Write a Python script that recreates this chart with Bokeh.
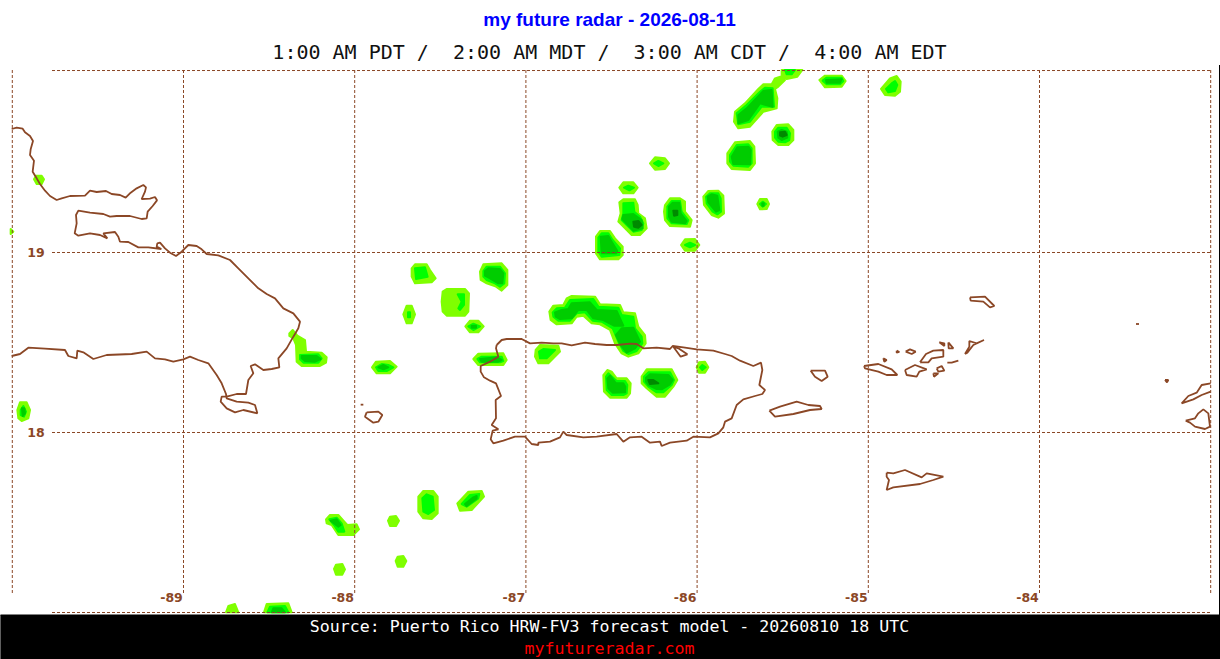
from bokeh.embed import file_html
from bokeh.resources import INLINE
from bokeh.models import Range1d, Label
from bokeh.plotting import figure
from bokeh.core.properties import value

# Map georeference
X0, Y0, PX_DEG_X, PX_DEG_Y = 183.5, 252.5, 171.2, 180.0
def lon(x): return -89 + (x - X0) / PX_DEG_X
def lat(y): return 19 - (y - Y0) / PX_DEG_Y

LON_LINES = [-90, -89, -88, -87, -86, -85, -84, -83]
LAT_LINES = [17, 18, 19, 20.011]
LON_LABELS = [-89, -88, -87, -86, -85, -84]
LAT_LABELS = [18, 19]
TITLE = "my future radar - 2026-08-11"
SUBTITLE = "1:00 AM PDT /\u00a0 2:00 AM MDT /\u00a0 3:00 AM CDT /\u00a0 4:00 AM EDT"
SOURCE = "Source: Puerto Rico HRW-FV3 forecast model - 20260810 18 UTC"
SITE = "myfutureradar.com"

# Digitised tracings: (origin of the tracing sheet), then points at 3x
def tr(o, pts): return [(o[0] + a / 3, o[1] + b / 3) for a, b in pts]
Z1, Z2, Z3, Z4, Z5, Z6, Z7, Z8 = (0,60), (0,270), (470,320), (760,280), (1120,310), (590,65), (390,255), (210,480)

HISPANIOLA = tr(Z1, [(35,207),(50,203),(68,206),(75,217),(90,228),(99,243),(92,268),(90,285),(102,302),(98,335),(110,355),(120,372),(135,392),(150,408),(170,420),(185,415),(210,408),(255,407),(270,392),(290,396),(318,393),(335,402),(360,405),(377,413),(392,398),(410,385),(430,375),(438,382),(435,395),(425,417),(450,416),(465,411),(471,421),(458,438),(443,455),(440,475),(425,477),(390,468),(350,468),(330,470),(310,462),(270,458),(235,452),(228,465),(230,490),(224,520),(235,527),(270,520),(300,525),(322,535),(310,520),(345,516),(355,530),(360,545),(385,546),(415,562),(445,562),(484,567),(470,560),(472,550),(480,548),(495,565),(510,578),(528,588),(545,575),(565,555),(590,558),(605,568),(620,582),(655,586),(690,600),(715,625),(748,658)]) + \
    tr(Z2, [(775,55),(800,72),(825,85),(850,115),(880,130),(900,155),(895,175),(880,200),(860,235),(835,265),(838,292),(815,297),(790,300),(765,283),(752,288),(760,310),(745,330),(738,372),(710,372),(680,380),(665,380),(662,395),(680,415),(705,427),(730,420),(772,430),(765,405),(745,398),(710,395),(680,385),(678,372),(665,340),(650,315),(625,280),(595,270),(570,260),(550,268),(520,275),(495,268),(465,265),(440,245),(395,252),(320,255),(280,267),(250,247),(232,242),(230,265),(205,258),(195,240),(135,236),(85,233),(60,252),(35,258)])
PUERTO_RICO = tr(Z3, [(80,75),(95,60),(110,57),(155,57),(180,70),(215,68),(250,70),(275,70),(305,76),(345,68),(375,72),(410,75),(440,75),(480,71),(500,72),(520,85),(560,83),(600,87),(608,78),(640,82),(680,88),(730,92),(765,102),(785,108),(810,122),(850,138),(873,128),(877,150),(868,195),(885,210),(877,222),(855,228),(820,238),(800,255),(785,295),(765,305),(760,322),(745,340),(720,352),(670,350),(650,362),(600,368),(575,378),(570,365),(540,368),(515,350),(480,352),(460,365),(440,342),(380,350),(340,352),(290,345),(280,335),(270,352),(240,365),(205,368),(205,375),(185,372),(165,350),(135,350),(100,362),(70,370),(62,358),(68,332),(85,328),(65,315),(78,295),(77,240),(93,228),(78,190),(60,182),(42,172),(32,155),(32,138),(60,125),(85,110),(78,85),(80,75)])
ISLANDS = [
    tr(Z2, [(1082,404),(1090,404)]),
    tr(Z2, [(1100,427),(1095,440),(1120,458),(1135,455),(1147,435),(1135,425),(1100,427)]),
    tr(Z3, [(610,80),(625,85),(652,103),(632,110),(610,80)]),
    tr(Z4, [(28,392),(60,380),(110,365),(145,375),(180,378),(185,387),(150,390),(100,402),(45,410),(28,392)]),
    tr(Z4, [(380,578),(400,580),(435,570),(485,592),(500,580),(550,590),(520,600),(480,612),(400,622),(380,630),(387,600),(380,590),(380,578)]),
    tr(Z4, [(152,272),(195,272),(203,290),(185,303),(165,290),(152,272)]),
    tr(Z4, [(312,258),(355,252),(395,268),(412,285),(380,285),(355,275),(315,265),(312,258)]),
    tr(Z4, [(435,270),(465,255),(500,268),(478,275),(470,290),(440,285),(435,270)]),
    tr(Z4, [(480,247),(498,222),(520,212),(550,210),(550,230),(515,235),(505,247),(480,247)]),
    tr(Z4, [(530,265),(545,258),(553,272),(535,275),(530,265)]),
    tr(Z4, [(520,280),(535,280),(522,290),(520,280)]),
    tr(Z4, [(538,187),(553,190),(553,198),(538,187)]),
    tr(Z4, [(565,187),(580,205),(566,205),(565,187)]),
    tr(Z4, [(410,212),(418,216),(410,218),(410,212)]),
    tr(Z4, [(370,235),(380,240),(373,245),(370,235)]),
    tr(Z4, [(437,215),(450,208),(467,215),(455,222),(437,215)]),
    tr(Z4, [(562,248),(575,248),(595,242)]),
    tr(Z4, [(615,222),(628,200),(628,183),(650,190),(672,180),(640,195),(622,218),(615,222)]),
    tr(Z4, [(630,52),(675,50),(703,78),(690,82),(670,65),(632,62),(630,52)]),
    tr(Z5, [(48,42),(57,42)]),
    tr(Z5, [(135,210),(145,210),(141,217),(135,210)]),
    tr(Z5, [(272,220),(245,225),(230,248),(205,258),(185,280),(220,268),(245,255),(272,245)]),
    tr(Z5, [(197,332),(225,325),(235,310),(250,298),(265,310),(270,350),(255,357),(225,350),(210,338),(197,332)]),
]

# Radar reflectivity bands, weakest to strongest
BAND_1 = [
    tr(Z6, [(435,140),(465,115),(505,72),(520,58),(545,58),(555,40),(580,32),(585,45),(565,65),(555,72),(562,100),(560,130),(520,140),(480,185),(445,190),(432,170)]),
    tr(Z6, [(575,15),(637,15),(622,35),(590,42),(575,30)]),
    tr(Z6, [(547,200),(560,180),(595,178),(610,195),(610,225),(595,240),(565,240),(548,225)]),
    tr(Z6, [(412,265),(435,232),(480,228),(493,245),(495,295),(480,315),(425,312),(412,295)]),
    tr(Z6, [(688,45),(705,32),(755,32),(767,48),(755,65),(705,67)]),
    tr(Z6, [(873,72),(900,40),(920,33),(932,50),(930,80),(915,92),(885,90)]),
    tr(Z6, [(180,295),(195,277),(225,280),(237,295),(225,312),(195,314)]),
    tr(Z6, [(88,368),(100,352),(130,352),(143,368),(130,385),(100,385)]),
    tr(Z6, [(88,412),(100,403),(135,403),(143,420),(145,445),(165,460),(170,490),(150,510),(125,510),(105,490),(85,470),(92,445)]),
    tr(Z6, [(225,420),(240,400),(270,400),(285,410),(285,440),(305,465),(300,485),(240,483),(225,465),(222,440)]),
    tr(Z6, [(340,395),(355,378),(385,377),(400,392),(402,445),(385,458),(365,450),(342,420)]),
    tr(Z6, [(502,417),(510,402),(530,402),(537,417),(530,432),(510,433)]),
    tr(Z6, [(273,540),(285,523),(315,522),(328,540),(315,557),(285,557)]),
    tr(Z6, [(18,515),(30,498),(60,498),(75,520),(98,545),(98,570),(85,583),(30,583),(18,565)]),
    tr(Z7, [(65,40),(75,28),(110,28),(120,45),(137,70),(125,82),(75,85),(65,65)]),
    tr(Z7, [(270,50),(280,28),(335,25),(352,45),(352,90),(335,107),(318,95),(290,85),(272,75)]),
    tr(Z7, [(158,110),(170,102),(225,102),(237,115),(235,170),(225,182),(170,182),(158,170),(155,140)]),
    tr(Z7, [(40,178),(50,152),(65,152),(75,178),(65,205),(50,205)]),
    tr(Z7, [(226,214),(240,197),(265,197),(281,214),(265,232),(240,232)]),
    tr(Z7, [(478,170),(490,152),(520,150),(530,130),(545,123),(615,125),(630,148),(690,150),(700,172),(735,175),(745,215),(765,240),(767,265),(745,295),(715,305),(695,295),(675,265),(660,225),(630,208),(605,205),(580,182),(560,185),(545,205),(500,208),(482,195)]),
    tr(Z7, [(437,285),(450,270),(505,272),(510,290),(475,325),(445,325),(435,305)]),
    tr(Z7, [(250,312),(265,296),(340,295),(350,315),(340,330),(265,330)]),
    tr(Z2, [(1116,292),(1128,275),(1170,273),(1190,290),(1170,310),(1130,310)]),
    tr(Z7, [(755,365),(770,343),(845,343),(862,375),(850,395),(825,425),(800,425),(770,400),(755,385)]),
    tr(Z7, [(640,360),(652,345),(665,350),(680,370),(710,370),(722,385),(720,415),(710,428),(660,428),(642,410)]),
    tr(Z7, [(920,337),(927,322),(945,320),(955,337),(945,353),(927,353)]),
    tr(Z2, [(868,190),(878,180),(892,197),(915,210),(918,245),(965,248),(980,262),(978,278),(960,288),(905,288),(890,275),(888,225),(880,205),(868,198)]),
    tr(Z2, [(52,420),(60,397),(80,397),(90,420),(85,445),(65,453),(55,445)]),
    tr(Z1, [(102,358),(108,347),(125,347),(132,358),(125,372),(110,372)]),
    tr(Z1, [(32,507),(40,515),(32,522)]),
    tr(Z8, [(625,50),(640,33),(670,33),(683,50),(683,100),(665,117),(640,115),(625,95)]),
    tr(Z8, [(742,70),(775,35),(815,33),(822,50),(785,90),(750,92)]),
    tr(Z8, [(348,118),(360,105),(385,105),(403,125),(412,135),(440,133),(447,148),(430,165),(385,165),(365,135),(350,130)]),
    tr(Z8, [(534,122),(540,110),(558,108),(567,122),(558,138),(540,138)]),
    tr(Z8, [(557,243),(563,230),(580,228),(589,243),(580,260),(563,260)]),
    tr(Z8, [(372,267),(378,254),(397,252),(405,268),(397,284),(378,284)]),
    tr(Z8, [(48,397),(55,378),(75,372),(85,397)]),
    tr(Z8, [(162,397),(170,372),(235,370),(245,397)]),
]
BAND_2 = [
    tr(Z6, [(440,145),(470,120),(510,80),(525,68),(548,70),(552,125),(515,125),(480,170),(445,178)]),
    tr(Z6, [(585,15),(615,15),(605,28),(590,28)]),
    tr(Z6, [(555,200),(565,188),(590,188),(600,205),(598,225),(585,232),(565,230),(555,218)]),
    tr(Z6, [(420,270),(440,240),(475,238),(485,250),(485,295),(475,305),(430,302),(420,290)]),
    tr(Z6, [(698,47),(710,38),(755,38),(760,48),(750,58),(710,58)]),
    tr(Z6, [(888,72),(905,55),(915,48),(922,60),(915,78),(895,82)]),
    tr(Z6, [(192,295),(205,288),(220,295),(205,303)]),
    tr(Z6, [(102,368),(115,362),(132,368),(118,376)]),
    tr(Z6, [(100,415),(130,413),(133,440),(150,455),(160,475),(155,495),(130,500),(110,480),(95,465),(100,445)]),
    tr(Z6, [(232,425),(245,408),(270,408),(275,440),(295,465),(290,477),(245,475),(232,460)]),
    tr(Z6, [(348,395),(360,385),(385,385),(392,400),(393,440),(382,448),(368,440),(350,415)]),
    tr(Z6, [(510,417),(518,410),(528,417),(518,425)]),
    tr(Z6, [(285,540),(300,533),(315,540),(300,547)]),
    tr(Z6, [(25,518),(35,505),(55,505),(68,525),(90,550),(88,570),(35,575),(25,560)]),
    tr(Z7, [(75,40),(105,37),(113,65),(78,72)]),
    tr(Z7, [(280,48),(290,35),(330,35),(345,55),(343,85),(330,95),(315,85),(290,75),(280,65)]),
    tr(Z7, [(203,118),(222,118),(222,150),(210,165),(205,160),(215,140)]),
    tr(Z7, [(54,172),(60,172),(60,187),(54,187)]),
    tr(Z7, [(235,214),(250,206),(270,214),(250,225)]),
    tr(Z7, [(488,172),(500,160),(525,158),(540,135),(610,132),(625,155),(685,158),(695,180),(730,185),(735,220),(755,245),(757,265),(740,288),(715,297),(700,288),(685,260),(668,220),(635,200),(608,197),(585,172),(560,175),(540,197),(505,197),(490,185)]),
    tr(Z7, [(447,290),(460,282),(495,285),(470,310),(450,310)]),
    tr(Z7, [(262,312),(275,305),(335,305),(340,318),(330,322),(270,322)]),
    tr(Z2, [(1128,292),(1145,282),(1165,285),(1180,292),(1160,303),(1135,303)]),
    tr(Z7, [(762,365),(775,352),(840,352),(852,375),(845,390),(820,412),(800,412),(775,395),(762,380)]),
    tr(Z7, [(648,365),(655,355),(680,378),(705,378),(712,390),(710,415),(700,420),(665,420),(650,405)]),
    tr(Z7, [(930,337),(937,330),(947,337),(937,345)]),
    tr(Z2, [(900,255),(955,253),(965,265),(955,278),(910,278),(900,268)]),
    tr(Z2, [(62,420),(70,408),(78,425),(72,440),(62,435)]),
    tr(Z8, [(637,55),(650,43),(668,50),(672,90),(655,102),(640,95)]),
    tr(Z8, [(755,72),(780,45),(808,42),(805,55),(770,80)]),
    tr(Z8, [(358,118),(380,113),(395,130),(403,155),(385,155),(372,135)]),
    tr(Z8, [(172,397),(180,380),(225,378),(235,397)]),
]
BAND_3 = [
    tr(Z6, [(445,150),(470,130),(520,78),(545,75),(548,125),(510,115),(475,165),(445,175)]),
    tr(Z6, [(563,200),(575,195),(590,200),(592,218),(575,225),(565,218)]),
    tr(Z6, [(425,275),(442,247),(475,245),(482,255),(480,298),(430,297)]),
    tr(Z6, [(708,45),(755,43),(750,53),(710,53)]),
    tr(Z6, [(100,450),(130,447),(155,465),(158,490),(130,497),(112,478),(97,462)]),
    tr(Z6, [(237,425),(248,413),(268,413),(272,445),(290,468),(285,475),(245,470),(237,455)]),
    tr(Z6, [(353,395),(365,388),(382,392),(388,435),(378,440),(355,412)]),
    tr(Z6, [(517,415),(521,415),(521,422),(517,422)]),
    tr(Z6, [(32,515),(55,513),(65,530),(82,558),(78,565),(35,565)]),
    tr(Z7, [(285,48),(295,40),(330,42),(340,55),(337,85),(325,85),(300,70),(285,62)]),
    tr(Z7, [(245,212),(258,212),(258,218),(245,218)]),
    tr(Z7, [(495,172),(515,165),(535,162),(545,145),(600,142),(620,165),(680,168),(692,195),(700,212),(672,212),(640,195),(610,190),(590,165),(565,165),(545,190),(510,192),(497,185)]),
    tr(Z7, [(695,220),(730,218),(750,260),(735,280),(710,293),(692,270),(678,240)]),
    tr(Z7, [(270,312),(320,307),(335,315),(325,320),(275,320)]),
    tr(Z2, [(1135,292),(1150,285),(1165,292),(1150,298)]),
    tr(Z7, [(768,368),(780,358),(835,360),(848,375),(840,388),(815,403),(800,402),(775,390),(768,380)]),
    tr(Z7, [(652,370),(660,362),(678,385),(700,385),(706,395),(705,412),(668,413),(655,400)]),
    tr(Z2, [(905,258),(950,258),(962,267),(945,275),(915,273),(905,265)]),
    tr(Z2, [(66,415),(73,415),(75,430),(68,438)]),
    tr(Z8, [(765,72),(790,52),(800,48),(800,55),(770,78)]),
    tr(Z8, [(362,122),(380,118),(392,135),(385,140)]),
    tr(Z8, [(185,397),(190,385),(215,385),(225,397)]),
]
BAND_4 = [
    tr(Z6, [(570,202),(585,200),(590,210),(578,215),(570,212)]),
    tr(Z6, [(130,470),(145,468),(155,480),(145,488),(132,485)]),
    tr(Z6, [(250,437),(262,437),(262,450),(252,452)]),
    tr(Z7, [(775,375),(790,375),(805,385),(780,387)]),
]
BAND_COLORS = ["#7FFF00", "#00FF00", "#00CD00", "#008B00"]
BROWN = "#8B4726"

W, H = 1220, 659
p = figure(width=W, height=H, output_backend="svg", toolbar_location=None,
           x_range=Range1d(lon(0.5), lon(W + 0.5)), y_range=Range1d(lat(H + 0.5), lat(0.5)),
           x_axis_type=None, y_axis_type=None, min_border=0, outline_line_color=None,
           background_fill_color="white", border_fill_color="white")
p.grid.visible = False

for band, col in zip([BAND_1, BAND_2, BAND_3, BAND_4], BAND_COLORS):
    p.patches([[lon(x) for x, y in b] for b in band], [[lat(y) for x, y in b] for b in band],
              fill_color=col, line_color=col, line_width=2, line_join="round")

p.segment(LON_LINES, [lat(593)] * len(LON_LINES), LON_LINES, [lat(68)] * len(LON_LINES),
          line_color=BROWN, line_width=1, line_dash="3 2")
p.segment([lon(52)] * len(LAT_LINES), LAT_LINES, [lon(1210.5)] * len(LAT_LINES), LAT_LINES,
          line_color=BROWN, line_width=1, line_dash="3 2")

coast = [HISPANIOLA, PUERTO_RICO] + ISLANDS
p.multi_line([[lon(x) for x, y in c] for c in coast], [[lat(y) for x, y in c] for c in coast],
             line_color=BROWN, line_width=1.8)

p.text(LON_LABELS, [lat(597)] * len(LON_LABELS), text=[str(v) for v in LON_LABELS],
       text_color=BROWN, text_font=value("DejaVu Sans"), text_font_style="bold", text_font_size="12.5px",
       text_align="center", text_baseline="middle", x_offset=-12)
p.text([lon(36)] * len(LAT_LABELS), LAT_LABELS, text=[str(v) for v in LAT_LABELS],
       text_color=BROWN, text_font=value("DejaVu Sans"), text_font_style="bold", text_font_size="12.5px",
       text_align="center", text_baseline="middle")

p.quad(left=[lon(0)], right=[lon(W + 1)], top=[lat(615)], bottom=[lat(H + 1)], fill_color="black", line_color="black")
p.quad(left=[lon(1219)], right=[lon(W + 1)], top=[lat(65)], bottom=[lat(615)], fill_color="black", line_color=None)

def lab(t, x, y, font, size, color, style="normal"):
    p.add_layout(Label(x=x, y=H - y, x_units="screen", y_units="screen", text=t, text_font=font,
                       text_font_size=size, text_color=color, text_font_style=style,
                       text_align="center", text_baseline="middle"))

lab(TITLE, 609, 19, "Liberation Sans", "19px", "#0000FF", "bold")
lab(SUBTITLE, 609, 51, "DejaVu Sans Mono", "20px", "#111111")
lab(SOURCE, 609, 626, "DejaVu Sans Mono", "16.6px", "#FFFFFF")
lab(SITE, 609, 648, "DejaVu Sans Mono", "16.6px", "#FF0000")

open("out.html", "w").write(file_html(p, INLINE))
